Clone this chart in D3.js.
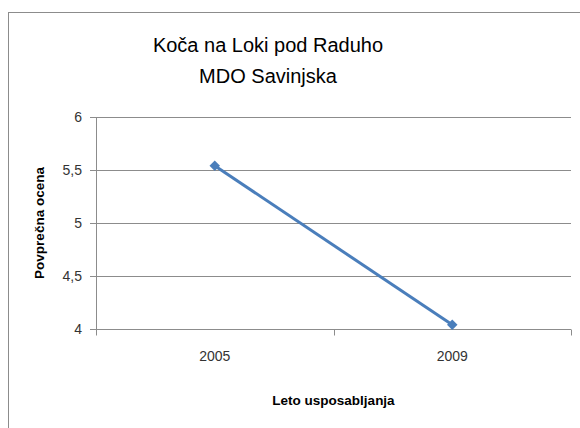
<!DOCTYPE html>
<meta charset="utf-8">
<style>
body { margin: 0; background: #fff; }
.axis text { font-family: "Liberation Sans", sans-serif; font-size: 14px; fill: #333; }
.axis path, .axis line { stroke: #8c8c8c; }
.grid line { stroke: #8c8c8c; }
.title { font-family: "Liberation Sans", sans-serif; font-size: 20px; fill: #000; }
.label { font-family: "Liberation Sans", sans-serif; font-size: 13.5px; font-weight: bold; fill: #000; }
</style>
<body>
<svg id="svg" width="580" height="428"></svg>
<script src="https://cdnjs.cloudflare.com/ajax/libs/d3/7.8.5/d3.min.js"></script>
<script>

var years = ["2005", "2009"];
var scores = [5.54, 4.04];
var yTicks = [4, 4.5, 5, 5.5, 6];
var titleLines = ["Koča na Loki pod Raduho", "MDO Savinjska"];

var svg = d3.select("svg"),
    margin = {top: 117, right: 9, bottom: 99, left: 96},
    width = 580 - margin.left - margin.right,
    height = 428 - margin.top - margin.bottom,
    g = svg.append("g").attr("transform", "translate(" + margin.left + "," + margin.top + ")");

// chart frame (cut off at right and bottom like the reference)
svg.append("rect")
    .attr("x", 8.5).attr("y", 12.5)
    .attr("width", 600).attr("height", 500)
    .attr("fill", "none")
    .attr("stroke", "#8c8c8c");

var x = d3.scaleBand().domain(years).range([0, width]),
    y = d3.scaleLinear().domain([4, 6]).range([height, 0]);

g.append("g")
    .attr("class", "grid")
    .selectAll("line")
    .data(yTicks.slice(1))
    .enter().append("line")
      .attr("x1", 0).attr("x2", width)
      .attr("y1", function(d) { return Math.round(y(d)) + 0.5; })
      .attr("y2", function(d) { return Math.round(y(d)) + 0.5; });

g.append("g")
    .attr("class", "axis axis--y")
    .call(d3.axisLeft(y).tickValues(yTicks).tickSize(6).tickPadding(8)
      .tickFormat(function(d) { return String(d).replace(".", ","); }))
    .call(function(a) { a.select(".domain").attr("d", "M0.5,0V" + height); });

var xAxis = g.append("g")
    .attr("class", "axis axis--x")
    .attr("transform", "translate(0," + (Math.round(height) + 0.5) + ")")
    .call(d3.axisBottom(x).tickSize(0).tickPadding(22));
xAxis.select(".domain").attr("d", "M0,0H" + width);
xAxis.selectAll(".sep")
    .data([0, width / 2, width])
    .enter().append("line")
      .attr("class", "sep")
      .attr("x1", function(d) { return Math.round(d) + 0.5; })
      .attr("x2", function(d) { return Math.round(d) + 0.5; })
      .attr("y1", 0).attr("y2", 6);

var line = d3.line()
    .x(function(d, i) { return x(years[i]) + x.bandwidth() / 2; })
    .y(function(d) { return y(d); });

g.append("path")
    .datum(scores)
    .attr("fill", "none")
    .attr("stroke", "#4a7ebb")
    .attr("stroke-width", 3)
    .attr("d", line);

g.selectAll(".pt")
    .data(scores)
    .enter().append("path")
      .attr("class", "pt")
      .attr("transform", function(d, i) { return "translate(" + (x(years[i]) + x.bandwidth() / 2) + "," + y(d) + ")"; })
      .attr("d", d3.symbol().type(d3.symbolDiamond2).size(70))
      .attr("fill", "#4a7ebb");

svg.selectAll(".title")
    .data(titleLines)
    .enter().append("text")
      .attr("class", "title")
      .attr("x", 268)
      .attr("y", function(d, i) { return 52 + i * 31; })
      .attr("text-anchor", "middle")
      .text(function(d) { return d; });

svg.append("text")
    .attr("class", "label")
    .attr("transform", "translate(44," + (margin.top + height / 2) + ") rotate(-90)")
    .attr("text-anchor", "middle")
    .text("Povprečna ocena");

svg.append("text")
    .attr("class", "label")
    .attr("x", margin.left + width / 2)
    .attr("y", 405)
    .attr("text-anchor", "middle")
    .text("Leto usposabljanja");

</script>
</body>
